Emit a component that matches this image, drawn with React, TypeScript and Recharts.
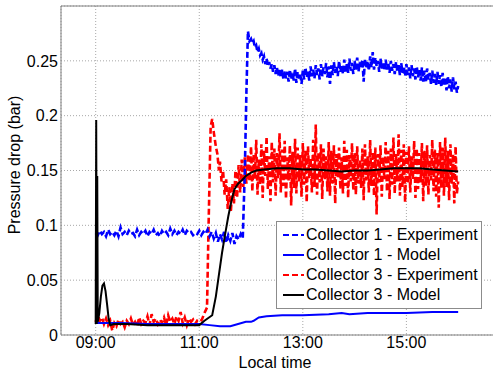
import { LineChart, Line, XAxis, YAxis, CartesianGrid, ReferenceLine, Legend } from 'recharts';

const xTicks = [9, 11, 13, 15];
const xTickLabels = ['09:00', '11:00', '13:00', '15:00'];
const yTicks = [0, 0.05, 0.1, 0.15, 0.2, 0.25];
const yTickLabels = ['0', '0.05', '0.1', '0.15', '0.2', '0.25'];

// logged segments: start hour, sample interval (h), readings in bar
const c1ExpEarlyStart = 9.0;
const c1ExpEarlyStep = 0.04;
const c1ExpEarly = [
  0.093, 0.091, 0.095, 0.092, 0.094, 0.090, 0.096, 0.092,
  0.094, 0.091, 0.095, 0.090, 0.098, 0.092, 0.094, 0.091,
  0.095, 0.092, 0.093, 0.090, 0.096, 0.091, 0.094, 0.092,
  0.095, 0.090, 0.094, 0.092, 0.096, 0.091, 0.093, 0.090,
  0.095, 0.092, 0.094, 0.091, 0.097, 0.092, 0.095, 0.091,
  0.094, 0.092, 0.096, 0.091, 0.095, 0.093, 0.094, 0.091,
  0.093, 0.092, 0.095, 0.091, 0.094, 0.092, 0.096, 0.090,
  0.094, 0.088, 0.093, 0.085, 0.092, 0.087, 0.094, 0.084,
  0.091, 0.086, 0.093, 0.083, 0.090, 0.087, 0.092, 0.088,
];
// [hour, bar] around the step change
const c1ExpJump: [number, number][] = [[11.88, 0.15], [11.91, 0.22], [11.94, 0.277], [11.97, 0.268]];
const c1ExpLateStart = 12.0;
const c1ExpLateStep = 0.025;
const c1ExpLate = [
  0.270, 0.266, 0.268, 0.262, 0.264, 0.258, 0.261, 0.255,
  0.257, 0.251, 0.254, 0.247, 0.252, 0.245, 0.249, 0.243,
  0.247, 0.240, 0.246, 0.238, 0.244, 0.236, 0.243, 0.235,
  0.242, 0.233, 0.241, 0.234, 0.240, 0.231, 0.242, 0.233,
  0.239, 0.232, 0.243, 0.230, 0.240, 0.234, 0.238, 0.229,
  0.241, 0.233, 0.244, 0.235, 0.240, 0.232, 0.245, 0.236,
  0.242, 0.234, 0.246, 0.237, 0.243, 0.233, 0.247, 0.236,
  0.244, 0.238, 0.248, 0.235, 0.245, 0.229, 0.246, 0.237,
  0.249, 0.239, 0.245, 0.236, 0.250, 0.240, 0.246, 0.238,
  0.251, 0.240, 0.247, 0.239, 0.252, 0.241, 0.248, 0.238,
  0.250, 0.242, 0.253, 0.240, 0.249, 0.243, 0.251, 0.231,
  0.252, 0.243, 0.250, 0.241, 0.254, 0.244, 0.258, 0.242,
  0.253, 0.245, 0.250, 0.240, 0.252, 0.243, 0.249, 0.241,
  0.251, 0.242, 0.248, 0.239, 0.250, 0.241, 0.247, 0.238,
  0.249, 0.240, 0.246, 0.237, 0.248, 0.239, 0.245, 0.236,
  0.247, 0.237, 0.244, 0.234, 0.246, 0.236, 0.243, 0.233,
  0.245, 0.235, 0.242, 0.232, 0.244, 0.231, 0.241, 0.230,
  0.243, 0.233, 0.239, 0.229, 0.241, 0.230, 0.238, 0.228,
  0.240, 0.229, 0.237, 0.226, 0.239, 0.227, 0.235, 0.223,
  0.236, 0.225, 0.233, 0.222, 0.235, 0.224, 0.231, 0.221,
  0.227,
];

const c1Model: [number, number][] = [
  [9.0, 0.011], [9.5, 0.011], [10.0, 0.01], [10.5, 0.01], [11.0, 0.01], [11.2, 0.009], [11.4, 0.008], [11.6, 0.008],
  [11.75, 0.01], [11.9, 0.012], [12.0, 0.012], [12.05, 0.013], [12.15, 0.016], [12.3, 0.017], [12.6, 0.018], [13.0, 0.018],
  [13.5, 0.019], [13.75, 0.02], [13.9, 0.019], [14.25, 0.02], [14.5, 0.02], [15.0, 0.02], [15.5, 0.021], [16.0, 0.021],
];

const c3ExpEarlyStart = 9.0;
const c3ExpEarlyStep = 0.04;
const c3ExpEarly = [
  0.012, 0.018, 0.013, 0.016, 0.010, 0.015, 0.009, 0.013,
  0.004, 0.011, 0.008, 0.014, 0.010, 0.012, 0.007, 0.013,
  0.010, 0.015, 0.009, 0.012, 0.008, 0.016, 0.010, 0.013,
  0.011, 0.017, 0.009, 0.019, 0.012, 0.015, 0.010, 0.014,
  0.011, 0.016, 0.009, 0.018, 0.012, 0.015, 0.010, 0.017,
  0.013, 0.021, 0.011, 0.016, 0.009, 0.015, 0.012, 0.014,
  0.010, 0.013, 0.012,
];
const c3ExpJump: [number, number][] = [
  [11.05, 0.014], [11.1, 0.02], [11.15, 0.025], [11.18, 0.1], [11.22, 0.19], [11.25, 0.197], [11.28, 0.185],
  [11.32, 0.172], [11.35, 0.165], [11.38, 0.15], [11.4, 0.158], [11.43, 0.14], [11.46, 0.15], [11.49, 0.128], [11.52, 0.142],
  [11.55, 0.115], [11.58, 0.135], [11.61, 0.112], [11.64, 0.138], [11.67, 0.12], [11.7, 0.15], [11.73, 0.125], [11.76, 0.155],
  [11.79, 0.13], [11.82, 0.16], [11.85, 0.135], [11.88, 0.162], [11.91, 0.138], [11.94, 0.165], [11.97, 0.14],
];
const c3ExpLateStart = 12.0;
const c3ExpLateStep = 0.025;
const c3ExpLate = [
  0.172, 0.131, 0.165, 0.142, 0.178, 0.128, 0.160, 0.137,
  0.174, 0.125, 0.168, 0.145, 0.181, 0.133, 0.163, 0.122,
  0.176, 0.139, 0.170, 0.127, 0.166, 0.143, 0.184, 0.130,
  0.169, 0.136, 0.177, 0.124, 0.162, 0.141, 0.173, 0.118,
  0.167, 0.134, 0.179, 0.129, 0.171, 0.140, 0.164, 0.126,
  0.175, 0.137, 0.168, 0.121, 0.172, 0.143, 0.161, 0.130,
  0.178, 0.135, 0.192, 0.128, 0.166, 0.139, 0.174, 0.124,
  0.170, 0.142, 0.163, 0.131, 0.176, 0.127, 0.168, 0.138,
  0.173, 0.120, 0.165, 0.144, 0.171, 0.133, 0.162, 0.129,
  0.177, 0.136, 0.169, 0.125, 0.164, 0.140, 0.175, 0.132,
  0.166, 0.128, 0.172, 0.138, 0.160, 0.134, 0.170, 0.123,
  0.174, 0.141, 0.163, 0.130, 0.178, 0.136, 0.167, 0.127,
  0.171, 0.110, 0.165, 0.139, 0.173, 0.126, 0.162, 0.142,
  0.176, 0.131, 0.168, 0.124, 0.170, 0.137, 0.180, 0.129,
  0.165, 0.140, 0.183, 0.127, 0.169, 0.135, 0.174, 0.121,
  0.167, 0.138, 0.172, 0.130, 0.163, 0.142, 0.177, 0.125,
  0.170, 0.133, 0.166, 0.139, 0.175, 0.122, 0.168, 0.136,
  0.173, 0.128, 0.164, 0.141, 0.178, 0.131, 0.169, 0.126,
  0.166, 0.116, 0.176, 0.134, 0.171, 0.127, 0.180, 0.135,
  0.168, 0.123, 0.174, 0.138, 0.165, 0.120, 0.172, 0.129,
  0.140,
];

const c3Model: [number, number][] = [
  [9.0, 0.01], [9.01, 0.196], [9.02, 0.01], [9.03, 0.145], [9.04, 0.012], [9.07, 0.02], [9.1, 0.035], [9.13, 0.045],
  [9.16, 0.047], [9.19, 0.04], [9.22, 0.028], [9.25, 0.015], [9.28, 0.009], [9.35, 0.01], [9.6, 0.01], [10.0, 0.009],
  [10.5, 0.009], [11.0, 0.009], [11.1, 0.013], [11.25, 0.018], [11.32, 0.035], [11.38, 0.055], [11.44, 0.075], [11.5, 0.092],
  [11.56, 0.108], [11.62, 0.122], [11.68, 0.133], [11.75, 0.138], [11.82, 0.141], [11.9, 0.145], [12.0, 0.148], [12.1, 0.15],
  [12.25, 0.151], [12.5, 0.152], [12.75, 0.152], [13.0, 0.151], [13.25, 0.151], [13.5, 0.15], [13.75, 0.149], [14.0, 0.15],
  [14.25, 0.15], [14.5, 0.151], [14.75, 0.152], [15.0, 0.152], [15.25, 0.152], [15.5, 0.151], [15.75, 0.15], [16.0, 0.149],
];

const legendItems = [
  { name: 'Collector 1 - Experiment', color: '#0000ff', dash: '6 3' },
  { name: 'Collector 1 - Model', color: '#0000ff', dash: '' },
  { name: 'Collector 3 - Experiment', color: '#ff0000', dash: '6 3' },
  { name: 'Collector 3 - Model', color: '#000000', dash: '' },
];

const FONT = '"Liberation Sans", Arial, sans-serif';

const sampled = (start: number, step: number, values: number[]) => values.map((v, i) => ({ t: start + i * step, v }));
const pairs = (s: [number, number][]) => s.map(([t, v]) => ({ t, v }));

const c1ExpData = [...sampled(c1ExpEarlyStart, c1ExpEarlyStep, c1ExpEarly), ...pairs(c1ExpJump), ...sampled(c1ExpLateStart, c1ExpLateStep, c1ExpLate)];
const c3ExpData = [...sampled(c3ExpEarlyStart, c3ExpEarlyStep, c3ExpEarly), ...pairs(c3ExpJump), ...sampled(c3ExpLateStart, c3ExpLateStep, c3ExpLate)];

const BoxLegend = () => (
  <div style={{ background: '#fff', border: '1px solid #8c8c8c', width: 204, padding: '3px 0', fontFamily: FONT, fontSize: 16, color: '#000' }}>
    {legendItems.map(item => (
      <div key={item.name} style={{ display: 'flex', alignItems: 'center', height: 20, lineHeight: '20px' }}>
        <svg width={29} height={20} style={{ flex: 'none' }}>
          <line x1={6} y1={10} x2={27} y2={10} stroke={item.color} strokeWidth={2} strokeDasharray={item.dash || undefined} />
        </svg>
        <span style={{ whiteSpace: 'nowrap' }}>{item.name}</span>
      </div>
    ))}
  </div>
);

export default function App() {
  return (
    <div style={{ position: 'absolute', left: 0, top: 0, width: 493, height: 373, overflow: 'hidden', background: '#fff' }}>
      <LineChart width={500} height={373} margin={{ top: 6, right: 3, bottom: 0, left: 0 }}>
        <CartesianGrid stroke="#a8a8a8" strokeDasharray="1 2" />
        <XAxis
          type="number"
          dataKey="t"
          domain={[8.33, 16.75]}
          ticks={xTicks}
          tickFormatter={(v: number) => xTickLabels[xTicks.indexOf(v)]}
          height={38}
          allowDataOverflow
          tickLine={false}
          tickSize={0}
          tickMargin={2}
          axisLine={{ stroke: '#808080' }}
          tick={{ fill: '#000', fontSize: 16, fontFamily: FONT }}
        />
        <YAxis
          type="number"
          domain={[0, 0.3]}
          ticks={yTicks}
          tickFormatter={(v: number) => yTickLabels[yTicks.indexOf(v)]}
          width={61}
          allowDataOverflow
          tickLine={false}
          tickSize={2}
          tickMargin={1}
          axisLine={{ stroke: '#808080' }}
          tick={{ fill: '#000', fontSize: 16, fontFamily: FONT }}
        />
        <ReferenceLine y={0.3} stroke="#808080" ifOverflow="visible" />
        <Line data={c3ExpData} dataKey="v" name="Collector 3 - Experiment" type="linear" stroke="#ff0000" strokeWidth={2.6} strokeDasharray="6 3" dot={false} isAnimationActive={false} />
        <Line data={c1ExpData} dataKey="v" name="Collector 1 - Experiment" type="linear" stroke="#0000ff" strokeWidth={2.6} strokeDasharray="6 3" dot={false} isAnimationActive={false} />
        <Line data={pairs(c1Model)} dataKey="v" name="Collector 1 - Model" type="linear" stroke="#0000ff" strokeWidth={2} dot={false} isAnimationActive={false} />
        <Line data={pairs(c3Model)} dataKey="v" name="Collector 3 - Model" type="linear" stroke="#000000" strokeWidth={2} dot={false} isAnimationActive={false} />
        <Legend
          layout="vertical"
          align="center"
          verticalAlign="middle"
          content={<BoxLegend />}
          wrapperStyle={{ left: 276, top: 221, width: 206, height: 'auto' }}
        />
      </LineChart>
      <div style={{ position: 'absolute', left: 275, top: 355, transform: 'translateX(-50%)', fontFamily: FONT, fontSize: 16, lineHeight: 1, whiteSpace: 'nowrap', color: '#000' }}>
        Local time
      </div>
      <div style={{ position: 'absolute', left: 15, top: 165, transform: 'translate(-50%, -50%) rotate(-90deg)', fontFamily: FONT, fontSize: 16, whiteSpace: 'nowrap', color: '#000' }}>
        Pressure drop (bar)
      </div>
    </div>
  );
}
